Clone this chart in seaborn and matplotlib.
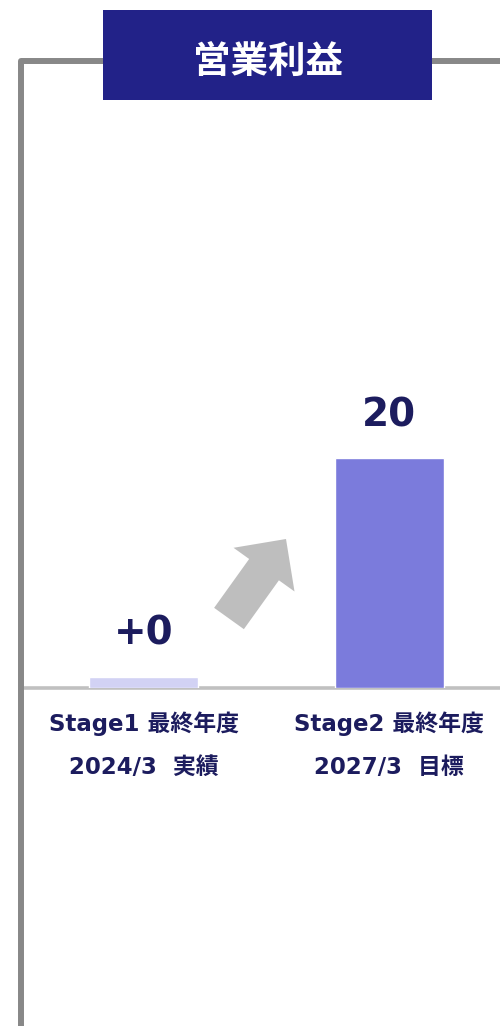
import matplotlib
matplotlib.use("Agg")
import matplotlib.pyplot as plt
import matplotlib.patches as mpatches
from matplotlib.lines import Line2D
import seaborn as sns

# ---------------------------------------------------------
# DATA
# ---------------------------------------------------------
categories = ["Stage1 最終年度\n2024/3  実績", "Stage2 最終年度\n2027/3  目標"]
values = [1.0, 20]
value_labels = ["+0", "20"]
bar_colors = ["#d2d2f4", "#7b7bdc"]
title = "営業利益"

NAVY = "#1c1c5e"

# ---------------------------------------------------------
# STYLE
# ---------------------------------------------------------
sns.set_theme(style="white")
plt.rcParams['font.family'] = ['DejaVu Sans', 'Noto Sans CJK JP']

W, H = 500, 1026
fig = plt.figure(figsize=(W / 100, H / 100), dpi=100)


def px(x0, y0, x1, y1):
    # pixel box (top-left origin) -> figure fraction rect
    return [x0 / W, 1 - y1 / H, (x1 - x0) / W, (y1 - y0) / H]


# grey frame (left + top)
fig.add_artist(Line2D([21 / W, 21 / W, 1.0], [0, 1 - 61 / H, 1 - 61 / H],
                      color="#888888", lw=4.3, solid_joinstyle="round",
                      solid_capstyle="butt", transform=fig.transFigure, zorder=1))

# title box
fig.add_artist(mpatches.Rectangle((103 / W, 1 - 100 / H), 329 / W, 90 / H,
                                  facecolor="#222288", edgecolor="none",
                                  transform=fig.transFigure, zorder=2))
fig.text(267.5 / W, 1 - 61 / H, title, color="white", fontsize=27,
         fontweight="bold", ha="center", va="center",
         family=['Noto Sans CJK JP', 'DejaVu Sans'], zorder=3)

# ---------------------------------------------------------
# BARS
# ---------------------------------------------------------
ax = fig.add_axes(px(24, 110, 500, 688))
sns.barplot(x=categories, y=values, hue=categories, palette=bar_colors,
            legend=False, width=0.444, saturation=1, ax=ax)

ax.set_xlim(-0.487, 1.452)
ax.set_ylim(0, 50.3)
for s in ax.spines.values():
    s.set_visible(False)
ax.set_yticks([])
ax.set_xlabel("")
ax.set_ylabel("")
ax.axhline(0, color="#c0c0c0", lw=2.6, clip_on=False, zorder=0)

ax.tick_params(axis="x", length=0, pad=17)
for lbl in ax.get_xticklabels():
    lbl.set_fontsize(16.5)
    lbl.set_fontweight("bold")
    lbl.set_color(NAVY)
    lbl.set_linespacing(2.1)

for i, (v, t) in enumerate(zip(values, value_labels)):
    ax.annotate(t, xy=(i, v), xytext=(0, 31), textcoords="offset points",
                ha="center", va="center", fontsize=28, fontweight="bold",
                color=NAVY)

# grey growth arrow (decoration, in inches so it isn't distorted)
fig.add_artist(mpatches.FancyArrow(2.29, 4.075, 0.57, 0.795, width=0.366,
                                   head_width=0.75, head_length=0.377,
                                   length_includes_head=True,
                                   facecolor="#bebebe", edgecolor="none",
                                   transform=fig.dpi_scale_trans, zorder=4))

fig.savefig("out.png", dpi=100)
